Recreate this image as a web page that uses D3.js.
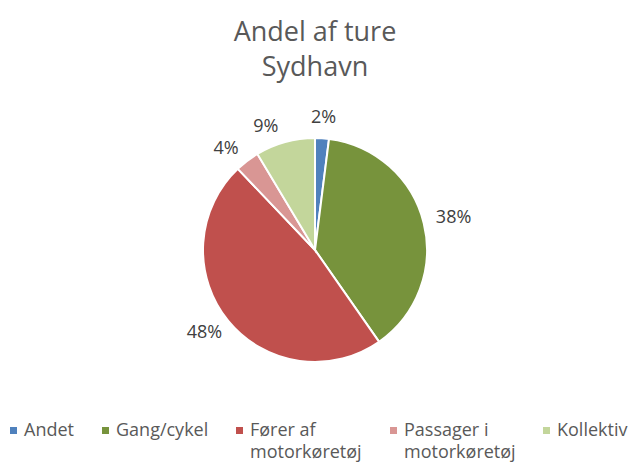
<!DOCTYPE html>
<html>
<head>
<meta charset="utf-8">
<script src="https://cdn.jsdelivr.net/npm/d3@7"></script>
<style>
  body { margin: 0; background: #fff; }
  text { font-family: "Open Sans", sans-serif; }
</style>
</head>
<body>
<svg id="chart" width="630" height="462"></svg>
<script>
// shares (percent)
var categories = ["Andet", "Gang/cykel", "Fører af motorkøretøj", "Passager i motorkøretøj", "Kollektiv"];
var values = [2.0, 38.3, 47.6, 3.5, 8.6];
var legendLines = [["Andet"], ["Gang/cykel"], ["Fører af", "motorkøretøj"], ["Passager i", "motorkøretøj"], ["Kollektiv"]];
var colors = ["#4F81BD", "#77933C", "#C0504D", "#D99694", "#C3D69B"];
var titleLines = ["Andel af ture", "Sydhavn"];

var svg = d3.select("#chart"),
    width = +svg.attr("width"),
    cx = 315, cy = 250, radius = 112;

var data = categories.map(function (c, i) {
    return {name: c, value: values[i], color: colors[i], legend: legendLines[i]};
});

// title
svg.append("g").selectAll("text")
    .data(titleLines)
    .enter().append("text")
    .attr("x", width / 2)
    .attr("y", function (d, i) { return 41 + i * 35; })
    .attr("text-anchor", "middle")
    .attr("font-size", 27)
    .attr("fill", "#595959")
    .text(function (d) { return d; });

var pie = d3.pie().sort(null).value(function (d) { return d.value; });
var arc = d3.arc().innerRadius(0).outerRadius(radius);
var arcs = pie(data);

var g = svg.append("g").attr("transform", "translate(" + cx + "," + cy + ")");

g.selectAll("path")
    .data(arcs)
    .enter().append("path")
    .attr("d", arc)
    .attr("fill", function (d) { return d.data.color; })
    .attr("stroke", "#fff")
    .attr("stroke-width", 2);

// outside-end labels
var labels = g.selectAll("text.lbl")
    .data(arcs)
    .enter().append("text")
    .attr("class", "lbl")
    .attr("font-size", 18)
    .attr("fill", "#404040")
    .attr("text-anchor", "middle")
    .text(function (d) { return Math.round(d.value) + "%"; });

function place(a, w, h) {
    var r = radius + 13;
    return {
        x: r * Math.sin(a) + (w / 2) * Math.sin(a),
        y: -r * Math.cos(a) - (h / 2) * Math.cos(a),
        w: w, h: h
    };
}
function overlaps(p, q) {
    var padX = 16, padY = 4;
    return Math.abs(p.x - q.x) < (p.w + q.w) / 2 + 2 * padX &&
           Math.abs(p.y - q.y) < (p.h + q.h) / 2 + 2 * padY;
}

var boxes = [];
labels.each(function (d) {
    d.angle = (d.startAngle + d.endAngle) / 2;
    d.box = place(d.angle, this.getComputedTextLength(), 14);
});

// push small top labels counter-clockwise so they don't crowd each other
var nodes = labels.nodes();
[0, 4, 3, 2, 1].forEach(function (i) {
    var d = d3.select(nodes[i]).datum(), k = 0;
    while (boxes.some(function (b) { return overlaps(b, d.box); }) && k < 60) {
        d.angle -= Math.PI / 360;
        d.box = place(d.angle, d.box.w, d.box.h);
        k++;
    }
    boxes.push(d.box);
});

labels
    .attr("x", function (d) { return d.box.x; })
    .attr("y", function (d) { return d.box.y + 5; });

// legend
var legendX = [10, 102, 236, 390, 543];
var legend = svg.append("g").selectAll("g")
    .data(data)
    .enter().append("g")
    .attr("transform", function (d, i) { return "translate(" + legendX[i] + ",0)"; });

legend.append("rect")
    .attr("x", 0)
    .attr("y", 427)
    .attr("width", 7)
    .attr("height", 7)
    .attr("fill", function (d) { return d.color; });

legend.append("text")
    .attr("font-size", 18)
    .attr("fill", "#595959")
    .selectAll("tspan")
    .data(function (d) { return d.legend; })
    .enter().append("tspan")
    .attr("x", 14)
    .attr("y", function (d, i) { return 436 + i * 22; })
    .text(function (d) { return d; });
</script>
</body>
</html>
